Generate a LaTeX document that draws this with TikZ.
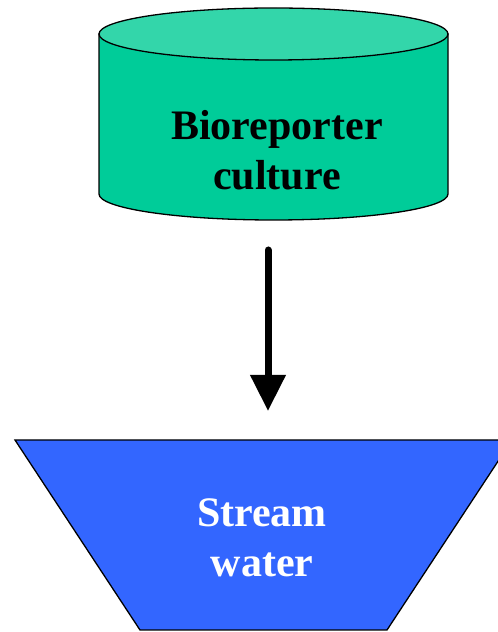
\documentclass[tikz,border=0pt]{standalone}
\usepackage{fontspec}
\setmainfont{Liberation Serif}
\usetikzlibrary{arrows.meta}
\definecolor{culturegreen}{HTML}{00CC99}
\definecolor{culturetop}{HTML}{33D6AA}
\definecolor{waterblue}{HTML}{3366FF}

\begin{document}
\begin{tikzpicture}[x=1pt, y=1pt, lbl/.style={font=\fontsize{42}{50}\selectfont\bfseries, align=center, inner sep=0pt, anchor=base}, shp/.style={draw=black, line width=1.3pt}]
\useasboundingbox (0,0) rectangle (498,632);
% cylinder
\path[shp, fill=culturegreen] (99,598) -- (99,438) arc[start angle=180, end angle=360, x radius=174.5, y radius=26] -- (448,598) -- cycle;
\path[shp, fill=culturetop] (273.5,598) ellipse[x radius=174.5, y radius=26];
\node[lbl] (bio) at (277,442) {Bioreporter\\culture};
% trough
\path[shp, fill=waterblue] (15,192) -- (512,192) -- (387,2) -- (140,2) -- cycle;
\node[lbl, text=white] (stream) at (262,55) {Stream\\water};
% arrow
\coordinate (arrtop) at (268,382);
\coordinate (arrtip) at (268,221);
\draw[-{Triangle[width=34pt, length=36pt]}, line width=7pt, line cap=round] (arrtop) -- (arrtip);
\end{tikzpicture}
\end{document}
